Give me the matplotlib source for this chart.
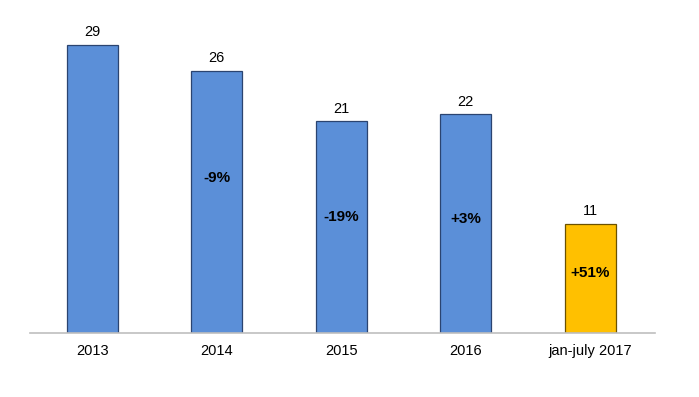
import matplotlib
matplotlib.use("Agg")
import matplotlib.pyplot as plt
from matplotlib import font_manager

categories = ["2013", "2014", "2015", "2016", "jan-july 2017"]
values = [29.0, 26.4, 21.3, 22.0, 11.0]
changes = ["", "-9%", "-19%", "+3%", "+51%"]

plt.rcParams['font.family'] = ['Liberation Sans', 'DejaVu Sans']
names = {f.name for f in font_manager.fontManager.ttflist}
narrow = 'Liberation Sans Narrow' if 'Liberation Sans Narrow' in names else 'Liberation Sans'

fig = plt.figure(figsize=(6.99, 3.97), dpi=100)
ax = fig.add_axes([30/699, 64/397, 625/699, 333/397])

colors = ["#5B8FD8"] * 4 + ["#FFC000"]
edges = ["#2B4470"] * 4 + ["#6B5100"]
x = list(range(len(categories)))
bars = ax.bar(x, values, width=0.41, color=colors, edgecolor=edges, linewidth=0.9, zorder=2)

label_frac = [0.5, 0.59, 0.55, 0.52, 0.55]
for i, (b, v, c) in enumerate(zip(bars, values, changes)):
    ax.annotate(f"{v:.0f}", (b.get_x() + b.get_width()/2, v), xytext=(0, 4),
                textcoords="offset points", ha="center", va="bottom", fontsize=10.5)
    if c:
        ax.text(b.get_x() + b.get_width()/2, v * label_frac[i], c, ha="center", va="center",
                fontsize=11, fontweight="bold", family=[narrow, 'DejaVu Sans'])

ax.set_xlim(-0.5, 4.52)
ax.set_ylim(0, 33.5)
for s in ["top", "right", "left"]:
    ax.spines[s].set_visible(False)
ax.spines["bottom"].set_color("#BFBFBF")
ax.spines["bottom"].set_linewidth(1.2)
ax.set_yticks([])
ax.set_xticks(x)
ax.set_xticklabels(categories, fontsize=10.5)
ax.tick_params(axis="x", length=0, pad=8)

fig.savefig("out.png", dpi=100)
